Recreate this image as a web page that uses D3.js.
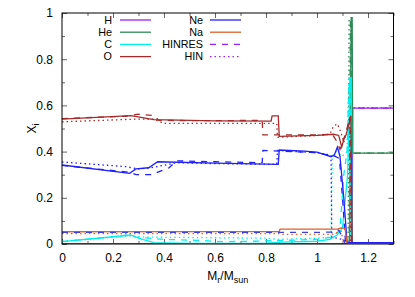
<!DOCTYPE html>
<html>
<head>
<meta charset="utf-8">
<script src="https://cdn.jsdelivr.net/npm/d3@7"></script>
<style>
	body{margin:0;background:#fff;}
	svg{font-family:"Liberation Sans",Arial,sans-serif;font-size:12px;}
</style>
</head>
<body>
<div id="chart"></div>
<script>
/* abundance profiles X_i vs M_r/M_sun
 * three runs per element: solid (default), dashed (HINRES), dotted (HIN)
 * */

// axis ticks
const xMajor = [0,0.2,0.4,0.6,0.8,1,1.2]
const xMinor = [0.1,0.3,0.5,0.7,0.9,1.1,1.3]
const yMajor = [0,0.2,0.4,0.6,0.8,1]
const yMinor = [0.1,0.3,0.5,0.7,0.9]

// [mass, X]
const hSolid  = [[0,0],[1.138,0],[1.14,0.588],[1.3,0.588]]
const hHinres = [[0,0],[1.136,0],[1.138,0.588],[1.3,0.588]]
const hHin    = [[0,0],[1.134,0],[1.136,0.59],[1.3,0.59]]

const heSolid  = [[0,0],[1.128,0],[1.134,0.98],[1.138,0.98],[1.14,0.393],[1.3,0.393]]
const heHinres = [[0,0],[1.126,0],[1.131,0.97],[1.136,0.97],[1.138,0.393],[1.3,0.393]]
const heHin    = [[0,0],[1.122,0],[1.126,0.97],[1.132,0.97],[1.136,0.393],[1.3,0.393]]

const cSolid  = [[0,0.01],[0.27,0.039],[0.3,0.025],[0.36,0.006],[0.5,0.003],[0.8,0.004],[0.86,0.008],[1.0,0.012],[1.05,0.02],[1.08,0.04],[1.1,0.07],[1.12,0.3],[1.13,0.72],[1.134,0.72],[1.138,0],[1.3,0]]
const cHinres = [[0,0.01],[0.27,0.04],[0.29,0.03],[0.4,0.02],[0.55,0.015],[0.62,0.01],[0.75,0.012],[0.85,0.015],[1.0,0.02],[1.06,0.03],[1.09,0.06],[1.105,0.3],[1.118,0.4],[1.126,0.72],[1.131,0.72],[1.134,0]]
const cHin    = [[0,0.012],[0.27,0.035],[0.32,0.03],[0.6,0.027],[0.8,0.025],[0.85,0.02],[1.0,0.025],[1.055,0.03],[1.06,0.38],[1.075,0.4],[1.1,0.38],[1.118,0.4],[1.124,0.7],[1.13,0.7],[1.132,0]]

const oSolid  = [[0,0.541],[0.27,0.556],[0.36,0.538],[0.6,0.533],[0.82,0.532],[0.824,0.555],[0.848,0.555],[0.852,0.466],[1.0,0.47],[1.065,0.475],[1.085,0.47],[1.097,0.42],[1.107,0.46],[1.115,0.475],[1.133,0.554],[1.138,0.003],[1.3,0.003]]
const oHinres = [[0,0.543],[0.25,0.553],[0.3,0.562],[0.36,0.556],[0.38,0.535],[0.6,0.534],[0.785,0.535],[0.788,0.472],[1.0,0.472],[1.06,0.475],[1.08,0.44],[1.09,0.41],[1.11,0.47],[1.13,0.55],[1.135,0.003]]
const oHin    = [[0,0.529],[0.3,0.541],[0.36,0.54],[0.4,0.522],[0.842,0.522],[0.845,0.462],[1.0,0.47],[1.05,0.475],[1.065,0.51],[1.08,0.52],[1.095,0.48],[1.105,0.44],[1.12,0.5],[1.128,0.55],[1.132,0.003]]

const neSolid  = [[0,0.342],[0.265,0.306],[0.29,0.325],[0.34,0.33],[0.375,0.356],[0.6,0.35],[0.848,0.345],[0.852,0.407],[0.95,0.402],[1.0,0.398],[1.055,0.378],[1.068,0.385],[1.08,0.42],[1.09,0.38],[1.105,0.2],[1.118,0.006],[1.3,0.006]]
const neHinres = [[0,0.34],[0.27,0.31],[0.29,0.3],[0.35,0.3],[0.42,0.33],[0.45,0.36],[0.6,0.356],[0.785,0.352],[0.788,0.405],[1.0,0.395],[1.07,0.38],[1.088,0.37],[1.1,0.2],[1.112,0.004]]
const neHin    = [[0,0.355],[0.25,0.335],[0.3,0.325],[0.35,0.33],[0.45,0.352],[0.6,0.348],[0.842,0.345],[0.845,0.405],[1.0,0.395],[1.055,0.385],[1.058,0.03],[1.1,0.02],[1.12,0.004]]

const naSolid = [[0,0.053],[0.6,0.054],[0.852,0.054],[0.855,0.064],[1.08,0.064],[1.095,0.07],[1.11,0.068],[1.118,0.002],[1.3,0.002]]
const naHin   = [[0,0.045],[0.85,0.045],[0.855,0.042],[1.06,0.042],[1.08,0.05],[1.095,0.055],[1.105,0.002]]
// blue dashed trace near 0.05 (not in the key)
const lowDash = [[0,0.05],[0.85,0.05],[1.0,0.05],[1.07,0.052],[1.085,0.06],[1.1,0.03],[1.11,0.002]]

const legendLeft  = ['H','He','C','O']
const legendRight = ['Ne','Na','HINRES','HIN']

const colors = {H:'#a020f0',He:'#2e8b57',C:'#00eeee',O:'#a52a2a',Ne:'#1f1fff',Na:'#e0602a',low:'#4040e0'}
const DASH = '6,6'
const DOT = '1.5,3'

const width = 415
const height = 297
const pL = 62, pR = 393.5, pT = 13, pB = 244

const svg = d3.select('#chart').append('svg')
	.attr('width',width)
	.attr('height',height)

const x = d3.scaleLinear().domain([0,1.3]).range([pL,pR])
const y = d3.scaleLinear().domain([0,1]).range([pB,pT])

svg.append('clipPath').attr('id','clip')
	.append('rect')
	.attr('x',pL).attr('y',pT-2)
	.attr('width',pR-pL).attr('height',pB-pT+2)

//axes: ticks inside, mirrored
function axis(gen,values,size,fmt,pad){
	return gen.tickValues(values).tickSize(-size).tickPadding(pad).tickFormat(fmt)
}
const fmt = d3.format('~g')
const noLab = () => ''

const gx = svg.append('g').attr('transform',`translate(0,${pB})`)
gx.call(axis(d3.axisBottom(x),xMajor,5,fmt,9))
gx.append('g').call(axis(d3.axisBottom(x),xMinor,3,noLab,0))
const gxt = svg.append('g').attr('transform',`translate(0,${pT})`)
gxt.call(axis(d3.axisTop(x),xMajor,5,noLab,0))
gxt.append('g').call(axis(d3.axisTop(x),xMinor,3,noLab,0))

const gy = svg.append('g').attr('transform',`translate(${pL},0)`)
gy.call(axis(d3.axisLeft(y),yMajor,5,fmt,9))
gy.append('g').call(axis(d3.axisLeft(y),yMinor,3,noLab,0))
const gyr = svg.append('g').attr('transform',`translate(${pR},0)`)
gyr.call(axis(d3.axisRight(y),yMajor,5,noLab,0))
gyr.append('g').call(axis(d3.axisRight(y),yMinor,3,noLab,0))

svg.selectAll('.domain').remove()
svg.selectAll('.tick line').attr('stroke','#666')
svg.selectAll('.tick text').attr('font-size',12).attr('fill','#000')
	.attr('font-family','"Liberation Sans",Arial,sans-serif')

//the curves
const series = [
	{d:hSolid,c:colors.H},{d:hHinres,c:colors.H,s:DASH},{d:hHin,c:colors.H,s:DOT},
	{d:heSolid,c:colors.He},{d:heHinres,c:colors.He,s:DASH},{d:heHin,c:colors.He,s:DOT},
	{d:cSolid,c:colors.C},{d:cHinres,c:colors.C,s:DASH},{d:cHin,c:colors.C,s:DOT},
	{d:oSolid,c:colors.O},{d:oHinres,c:colors.O,s:DASH},{d:oHin,c:colors.O,s:DOT},
	{d:neSolid,c:colors.Ne},{d:neHinres,c:colors.Ne,s:DASH},{d:neHin,c:colors.Ne,s:DOT},
	{d:naSolid,c:colors.Na},{d:naHin,c:colors.Na,s:DOT},
	{d:lowDash,c:colors.low,s:DASH},
]
const line = d3.line().x(d => x(d[0])).y(d => y(d[1]))
svg.append('g').attr('clip-path','url(#clip)')
	.selectAll('path').data(series).enter().append('path')
	.attr('d',d => line(d.d))
	.attr('fill','none')
	.attr('stroke',d => d.c)
	.attr('stroke-width',1.3)
	.attr('stroke-dasharray',d => d.s || null)

//border
svg.append('rect')
	.attr('x',pL).attr('y',pT)
	.attr('width',pR-pL).attr('height',pB-pT)
	.attr('fill','none').attr('stroke','#000').attr('stroke-width',1)

//key
const keyLeft = [
	{c:colors.H},{c:colors.He},{c:colors.C},{c:colors.O}]
const keyRight = [
	{c:colors.Ne},{c:colors.Na},{c:colors.H,s:DASH},{c:colors.H,s:DOT}]
keyLeft.forEach((k,i) => k.t = legendLeft[i])
keyRight.forEach((k,i) => k.t = legendRight[i])

function key(items,tx,sx){
	const g = svg.append('g').attr('font-size',10.8)
	items.forEach(function(k,i){
		const yy = 20 + i*12.2
		g.append('text').attr('x',tx).attr('y',yy).attr('dy','0.36em')
			.attr('text-anchor','end').text(k.t)
		g.append('line').attr('x1',sx).attr('x2',sx+31).attr('y1',yy).attr('y2',yy)
			.attr('stroke',k.c).attr('stroke-width',1.3)
			.attr('stroke-dasharray',k.s || null)
	})
}
key(keyLeft,112,120)
key(keyRight,203,210)

//axis titles
const xt = svg.append('text').attr('x',(pL+pR)/2).attr('y',280).attr('text-anchor','middle')
xt.append('tspan').text('M')
xt.append('tspan').attr('font-size',9).attr('dy',3).text('r')
xt.append('tspan').attr('dy',-3).text('/M')
xt.append('tspan').attr('font-size',9).attr('dy',3).text('sun')

const yt = svg.append('text')
	.attr('transform',`translate(36,${(pT+pB)/2}) rotate(-90)`)
	.attr('text-anchor','middle')
yt.append('tspan').text('X')
yt.append('tspan').attr('font-size',9).attr('dy',3).text('i')
</script>
</body>
</html>
